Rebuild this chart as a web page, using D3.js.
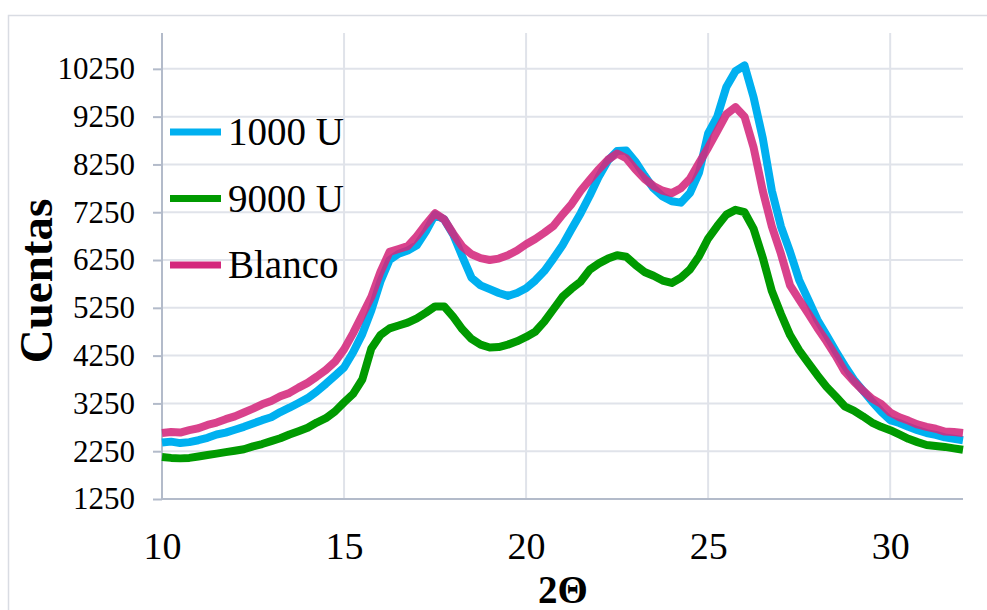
<!DOCTYPE html>
<html lang="es">
<head>
    <meta charset="UTF-8">
    <title>Cuentas vs 2Θ</title>
    <script src="https://cdn.jsdelivr.net/npm/d3@7/dist/d3.min.js"></script>
    <style>
        body {
            margin: 0;
            background: #fff;
        }

        svg text {
            font-family: "Liberation Serif", "Times New Roman", serif;
            fill: #000;
        }

        svg .grid line {
            stroke: #e0e3ea;
            stroke-width: 2;
        }

        svg .axis-line {
            stroke: #b3bbca;
            stroke-width: 2;
        }

        svg .serie {
            fill: none;
            stroke-width: 8;
            stroke-linejoin: round;
            stroke-linecap: butt;
        }
    </style>
</head>
<body>
<svg width="987" height="610"></svg>
<script>

    // 2θ (grados), paso 0.25
    var angulos = d3.range(0, 89).map(function(i) { return 10 + i * 0.25; });

    var cuentas1000 = [
        2430, 2450, 2420, 2440, 2480, 2530, 2600, 2640, 2700, 2760,
        2830, 2900, 2960, 3070, 3160, 3260, 3360, 3500, 3660, 3830,
        4000, 4320, 4700, 5200, 5800, 6250, 6380, 6450, 6560, 6850,
        7200, 7100, 6780, 6320, 5880, 5720, 5640, 5560, 5500, 5560,
        5660, 5820, 6020, 6280, 6560, 6900, 7230, 7600, 8000, 8330,
        8530, 8540, 8310, 8020, 7750, 7580, 7480, 7450, 7650, 8080,
        8900, 9250, 9870, 10200, 10320, 9650, 8800, 7700, 6950, 6420,
        5830, 5420, 5000, 4680, 4350, 4040, 3750, 3520, 3290, 3080,
        2900, 2840, 2760, 2690, 2630, 2590, 2540, 2510, 2480
    ];

    var cuentas9000 = [
        2130, 2110, 2100, 2110, 2140, 2170, 2200, 2230, 2260, 2290,
        2350, 2400, 2460, 2520, 2600, 2670, 2740, 2850, 2940, 3080,
        3270, 3450, 3750, 4400, 4680, 4820, 4880, 4940, 5030, 5150,
        5280, 5280, 5060, 4800, 4600, 4480, 4420, 4430, 4480, 4550,
        4640, 4750, 4960, 5220, 5480, 5650, 5800, 6050, 6180, 6280,
        6350, 6320, 6150, 6000, 5920, 5820, 5770, 5880, 6050, 6330,
        6700, 6960, 7200, 7300, 7250, 6900, 6300, 5600, 5120, 4680,
        4360, 4100, 3840, 3600, 3400, 3190, 3100, 2980, 2850, 2760,
        2690, 2600, 2510, 2440, 2380, 2360, 2340, 2310, 2280
    ];

    var cuentasBlanco = [
        2630, 2650, 2640, 2690, 2730, 2800, 2850, 2920, 2980, 3060,
        3140, 3230, 3300, 3400, 3470, 3580, 3680, 3810, 3950, 4120,
        4380, 4720, 5100, 5480, 6000, 6420, 6480, 6540, 6750, 7000,
        7230, 7100, 6800, 6530, 6370, 6290, 6250, 6280, 6350, 6450,
        6580, 6690, 6820, 6960, 7200, 7420, 7700, 7930, 8150, 8350,
        8480, 8380, 8150, 7950, 7800, 7700, 7650, 7750, 7950, 8280,
        8600, 8950, 9300, 9450, 9250, 8600, 7700, 6950, 6380, 5720,
        5420, 5130, 4830, 4550, 4250, 3920, 3710, 3520, 3350, 3240,
        3060, 2960, 2890, 2810, 2760, 2720, 2660, 2650, 2630
    ];

    var nombresSeries = ['1000 U', '9000 U', 'Blanco'];
    var coloresSeries = ['#00b0f0', '#009a00', '#d4287c'];
    var ticksX = [10, 15, 20, 25, 30];
    var ticksY = [1250, 2250, 3250, 4250, 5250, 6250, 7250, 8250, 9250, 10250];

    var series = [cuentas1000, cuentas9000, cuentasBlanco];

    var svg = d3.select('svg'),
        plotLeft = 162, plotRight = 963, plotTop = 33, plotBottom = 499;

    var xScale = d3.scaleLinear().domain([10, 32]).range([plotLeft, plotRight]),
        yScale = d3.scaleLinear().domain([1250, 11000]).range([plotBottom, plotTop]);

    // marco exterior
    svg.append('rect')
        .attr('x', 8.5).attr('y', 15.5)
        .attr('width', 1000).attr('height', 620)
        .attr('fill', 'none')
        .attr('stroke', '#d9dce3')
        .attr('stroke-width', 1.5);

    // rejilla
    var grid = svg.append('g').classed('grid', true);

    grid.selectAll('.hline')
        .data(ticksY.slice(1))
        .enter().append('line')
        .attr('x1', plotLeft).attr('x2', plotRight)
        .attr('y1', function(d) { return yScale(d); })
        .attr('y2', function(d) { return yScale(d); });

    grid.selectAll('.vline')
        .data(ticksX.slice(1))
        .enter().append('line')
        .attr('y1', plotTop).attr('y2', plotBottom)
        .attr('x1', function(d) { return xScale(d); })
        .attr('x2', function(d) { return xScale(d); });

    // ejes
    var yAxis = d3.axisLeft(yScale).tickValues(ticksY).tickSize(9).tickPadding(18)
                    .tickFormat(d3.format('d'));
    var xAxis = d3.axisBottom(xScale).tickValues(ticksX).tickSize(0).tickPadding(33);

    var gy = svg.append('g')
        .attr('transform', 'translate(' + plotLeft + ',0)')
        .call(yAxis);
    gy.select('.domain').remove();
    gy.selectAll('.tick line').attr('stroke', '#b3bbca').attr('stroke-width', 2);
    gy.selectAll('.tick text')
        .attr('font-size', 31)
        .attr('font-family', '"Liberation Serif", serif')
        .attr('fill', '#000');

    var gx = svg.append('g')
        .attr('transform', 'translate(0,' + plotBottom + ')')
        .call(xAxis);
    gx.select('.domain').remove();
    gx.selectAll('.tick text')
        .attr('font-size', 38)
        .attr('font-family', '"Liberation Serif", serif')
        .attr('fill', '#000');

    svg.append('line').classed('axis-line', true)
        .attr('x1', plotLeft).attr('x2', plotLeft)
        .attr('y1', plotTop).attr('y2', plotBottom);
    svg.append('line').classed('axis-line', true)
        .attr('x1', plotLeft).attr('x2', plotRight)
        .attr('y1', plotBottom).attr('y2', plotBottom);

    // series
    var lineGene = d3.line()
        .x(function(d, i) { return xScale(angulos[i]); })
        .y(function(d) { return yScale(d); });

    svg.append('g').selectAll('path')
        .data(series)
        .enter().append('path')
        .classed('serie', true)
        .attr('d', function(d) { return lineGene(d); })
        .attr('stroke', function(d, i) { return coloresSeries[i]; })
        .attr('stroke-opacity', function(d, i) { return i === 2 ? 0.88 : 1; });

    // leyenda
    var legend = svg.append('g').selectAll('g')
        .data(nombresSeries)
        .enter().append('g')
        .attr('transform', function(d, i) { return 'translate(170,' + (132 + i * 66.5) + ')'; });

    legend.append('line')
        .attr('x1', 0).attr('x2', 51)
        .attr('stroke-width', 7)
        .attr('stroke', function(d, i) { return coloresSeries[i]; });

    legend.append('text')
        .attr('x', 58).attr('y', 13)
        .attr('font-size', 39)
        .text(function(d) { return d; });

    // títulos
    svg.append('text')
        .attr('transform', 'translate(52,281) rotate(-90)')
        .attr('text-anchor', 'middle')
        .attr('font-size', 47)
        .attr('font-weight', 'bold')
        .text('Cuentas');

    svg.append('text')
        .attr('x', 563).attr('y', 603)
        .attr('text-anchor', 'middle')
        .attr('font-size', 39)
        .attr('font-weight', 'bold')
        .text('2Θ');

</script>
</body>
</html>
